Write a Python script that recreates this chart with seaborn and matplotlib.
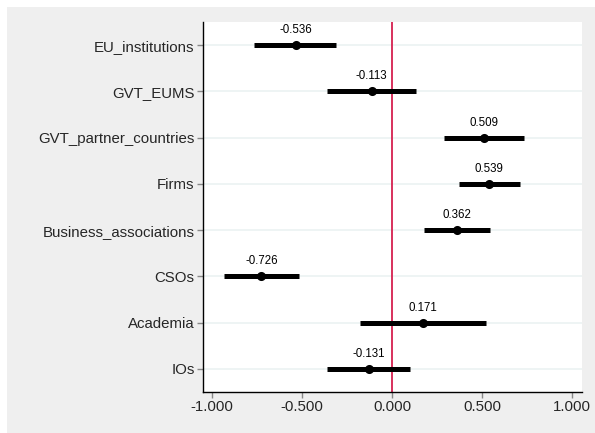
import matplotlib
matplotlib.use("Agg")
import matplotlib.pyplot as plt
import seaborn as sns
import pandas as pd
from matplotlib.patches import Rectangle

categories = ["EU_institutions", "GVT_EUMS", "GVT_partner_countries", "Firms",
              "Business_associations", "CSOs", "Academia", "IOs"]
estimates = [-0.536, -0.113, 0.509, 0.539, 0.362, -0.726, 0.171, -0.131]
ci_low = [-0.768, -0.361, 0.287, 0.371, 0.176, -0.935, -0.179, -0.361]
ci_high = [-0.309, 0.132, 0.732, 0.709, 0.543, -0.518, 0.520, 0.098]
x_ticks = [-1.0, -0.5, 0.0, 0.5, 1.0]

df = pd.DataFrame({"cat": categories, "est": estimates, "lo": ci_low, "hi": ci_high})

sns.set_style("white")
plt.rcParams["font.family"] = ["Liberation Sans", "DejaVu Sans"]

fig = plt.figure(figsize=(5.95, 4.33), dpi=100, facecolor="#efefef")
# white screenshot margins on top and left
fig.patches.append(Rectangle((0, 1 - 7/433), 1, 7/433, transform=fig.transFigure,
                             facecolor="white", edgecolor="none", zorder=-10))
fig.patches.append(Rectangle((0, 0), 7/595, 1, transform=fig.transFigure,
                             facecolor="white", edgecolor="none", zorder=-10))

ax = fig.add_axes([203/595, 1 - 392/433, (582-203)/595, (392-22)/433])
ax.set_facecolor("white")

for i in range(len(categories)):
    ax.axhline(i, color="#edf3f3", lw=1.3, zorder=0)

ax.axvline(0, color="#d6204f", lw=1.3, zorder=1)

ax.hlines(y=range(len(categories)), xmin=df["lo"], xmax=df["hi"], color="black", lw=3.6, zorder=2)
sns.pointplot(data=df, x="est", y="cat", order=categories, orient="h", linestyle="none",
              color="black", markers="o", errorbar=None, markersize=4.5, ax=ax, zorder=3)

for i, v in enumerate(estimates):
    ax.annotate(f"{v:.3f}", (v, i), xytext=(0, 6.5), textcoords="offset points",
                ha="center", va="bottom", fontsize=8.3, color="black")

ax.set_xlim(-1.05, 1.054)
ax.set_ylim(len(categories) - 0.5, -0.5)
ax.set_xticks(x_ticks)
ax.set_xticklabels([f"{t:.3f}" for t in x_ticks], fontsize=10.8)
ax.tick_params(axis="y", labelsize=10.8)
ax.set_xlabel("")
ax.set_ylabel("")
for s in ["top", "right"]:
    ax.spines[s].set_visible(False)
for s in ["left", "bottom"]:
    ax.spines[s].set_color("black")
    ax.spines[s].set_linewidth(1.0)
ax.tick_params(axis="both", which="major", direction="out", length=4, width=1, color="#888888",
               bottom=True, left=True, pad=2)

fig.savefig("out.png", dpi=100, facecolor=fig.get_facecolor())
